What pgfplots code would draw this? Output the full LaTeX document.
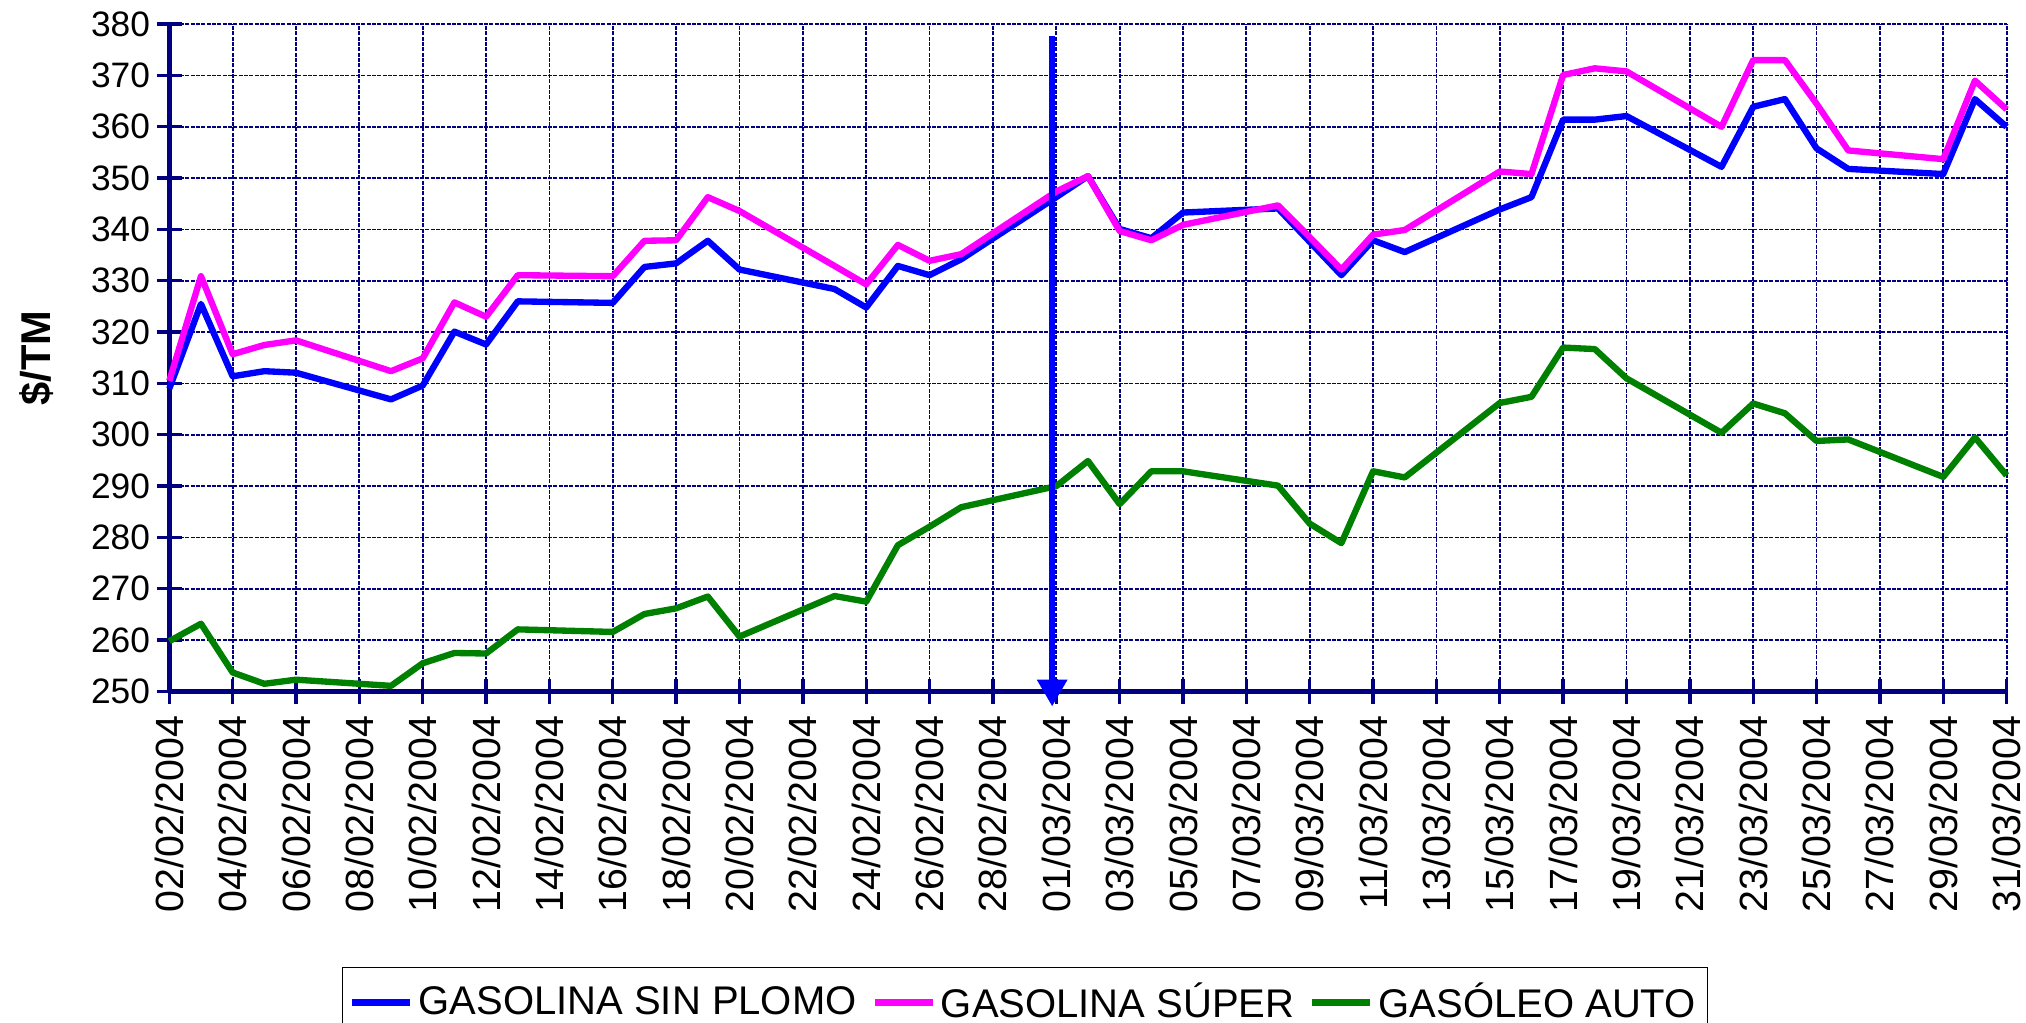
\documentclass[border=0pt]{standalone}
\usepackage{pgfplots}
\pgfplotsset{compat=1.18}
\usepackage{pgfplotstable}
\usepackage{fontspec}
\setmainfont{Liberation Sans}
\usetikzlibrary{arrows.meta}
\definecolor{navy}{RGB}{0,0,128}
\definecolor{ggreen}{RGB}{0,128,0}
\definecolor{pblue}{RGB}{0,0,255}
\definecolor{pmag}{RGB}{255,0,255}

\pgfplotstableread{
day sp su go
0 309.0 310.5 259.8
1 325.5 330.9 263.2
2 311.4 315.7 253.7
3 312.4 317.5 251.5
4 312.1 318.4 252.3
7 306.9 312.4 251.1
8 309.6 314.9 255.5
9 320.1 325.8 257.5
10 317.6 323.0 257.4
11 326.0 331.1 262.1
14 325.7 330.9 261.6
15 332.7 337.8 265.1
16 333.4 337.9 266.2
17 337.8 346.3 268.5
18 332.2 343.6 260.7
21 328.4 332.9 268.6
22 324.8 329.3 267.5
23 332.9 337.0 278.5
24 331.1 333.9 282.1
25 334.2 335.2 285.9
28 346.3 347.4 290.0
29 350.4 350.4 294.9
30 340.1 339.7 286.5
31 338.3 337.9 292.9
32 343.3 340.9 292.9
35 344.1 344.7 290.1
36 337.6 338.5 282.7
37 331.1 332.2 278.9
38 337.9 339.0 292.9
39 335.6 339.9 291.7
42 343.9 351.3 306.2
43 346.3 350.8 307.4
44 361.4 370.1 317.0
45 361.4 371.4 316.7
46 362.1 370.8 311.0
49 352.2 360.0 300.4
50 363.9 373.0 306.1
51 365.4 373.0 304.2
52 355.8 364.5 298.8
53 351.8 355.4 299.1
56 350.8 353.7 291.8
57 365.4 369.0 299.5
58 360.0 363.4 292.1
}\prices

\begin{document}
\begin{tikzpicture}
\begin{axis}[
  scale only axis, width=551.2pt, height=200.2pt,
  xmin=0, xmax=58, ymin=250, ymax=380,
  xtick={0,2,...,58}, ytick={250,260,...,380},
  xticklabels={02/02/2004,04/02/2004,06/02/2004,08/02/2004,10/02/2004,12/02/2004,14/02/2004,16/02/2004,18/02/2004,20/02/2004,22/02/2004,24/02/2004,26/02/2004,28/02/2004,01/03/2004,03/03/2004,05/03/2004,07/03/2004,09/03/2004,11/03/2004,13/03/2004,15/03/2004,17/03/2004,19/03/2004,21/03/2004,23/03/2004,25/03/2004,27/03/2004,29/03/2004,31/03/2004},
  axis x line*=bottom, axis y line*=left,
  axis line style={navy, line width=1.5pt, -},
  tick style={navy, line width=1pt},
  major tick length=7.5pt, tick align=center,
  grid=major,
  major grid style={navy, line width=0.55pt, dash pattern=on 1.2pt off 0.4pt},
  ticklabel style={text=black},
  /pgf/number format/assume math mode=true,
  xticklabel style={rotate=90, anchor=east, font=\fontsize{11.8}{13}\selectfont},
  yticklabel style={font=\fontsize{10.6}{12}\selectfont, xshift=1.5pt},
  ylabel={\bfseries\$/TM},
  ylabel style={font=\fontsize{12.5}{14}\selectfont, at={(axis description cs:-0.0725,0.5)}, anchor=center},
  clip=false,
  legend columns=3,
  legend style={at={(axis description cs:0.094,-0.413)}, anchor=north west, draw=black, line width=0.4pt,
    font=\fontsize{12}{14}\selectfont, inner xsep=2pt, inner ysep=3pt,
    /tikz/every even column/.append style={column sep=3pt},
    nodes={inner sep=1.5pt}},
  legend image code/.code={\draw[#1] (0pt,0pt) -- (17.4pt,0pt);},
]
\coordinate (O) at (rel axis cs:0,0);
\addplot[pblue, line width=1.9pt, line join=round] table[x=day,y=sp]{\prices};
\addplot[pmag, line width=1.9pt, line join=round] table[x=day,y=su]{\prices};
\addplot[ggreen, line width=1.9pt, line join=round] table[x=day,y=go]{\prices};
\addplot[pblue, line width=1.8pt, -{Triangle[width=8.7pt,length=8pt]}, forget plot] coordinates {(27.87,377.7) (27.87,247.1)};
\legend{GASOLINA SIN PLOMO, GASOLINA SÚPER, GASÓLEO AUTO}
\end{axis}
\pgfresetboundingbox
\path[use as bounding box] ([shift={(-50.79pt,-99.45pt)}]O) rectangle ++(607.8pt,306.9pt);
\end{tikzpicture}
\end{document}
